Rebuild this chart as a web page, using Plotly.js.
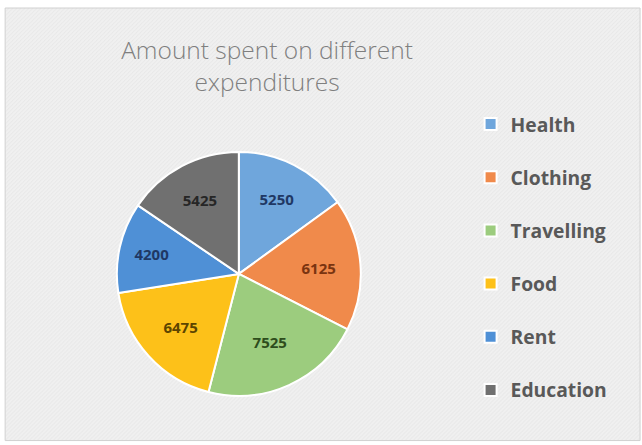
<!DOCTYPE html>
<html><head><meta charset="utf-8">
<script src="https://cdn.plot.ly/plotly-3.0.1.min.js"></script>
<style>body{margin:0;background:#fff}#c{width:642px;height:445px}</style>
</head><body><div id="c"></div>
<script>
const categories = ["Health", "Clothing", "Travelling", "Food", "Rent", "Education"];
const amounts = [5250, 6125, 7525, 6475, 4200, 5425];
const sliceColors = ["#6fa6dc", "#f08a4b", "#9ccc7e", "#fdc119", "#4f90d6", "#707070"];
const labelColors = ["#1f3864", "#7a3410", "#2e4d1c", "#5c4500", "#1f3864", "#262626"];

const svg = "<svg xmlns='http://www.w3.org/2000/svg' width='635' height='432' viewBox='0 0 635 432'>" +
  "<defs><pattern id='p' width='4' height='4' patternUnits='userSpaceOnUse'>" +
  "<rect width='4' height='4' fill='#f0f0f0'/><path d='M-1,1 l2,-2 M0,4 l4,-4 M3,5 l2,-2' stroke='#e4e4e4' stroke-width='0.8'/></pattern></defs>" +
  "<rect width='635' height='432' fill='url(#p)'/></svg>";
const pattern = "data:image/svg+xml;base64," + btoa(svg);

const trace = {
  type: "pie",
  labels: categories.map(c => c + "<br> "),
  values: amounts,
  sort: false,
  direction: "clockwise",
  rotation: 0,
  textinfo: "value",
  textposition: "inside",
  insidetextorientation: "horizontal",
  textfont: {family: "Open Sans, sans-serif", size: 15, color: labelColors, weight: "bold"},
  marker: {colors: sliceColors, line: {color: "#ffffff", width: 2}},
  domain: {x: [0.182, 0.562], y: [0.108, 0.661]},
  hoverinfo: "label+value"
};

const layout = {
  width: 642, height: 445,
  margin: {l: 0, r: 0, t: 0, b: 0},
  paper_bgcolor: "#ffffff",
  showlegend: true,
  title: {
    text: "Amount spent on different<br>expenditures",
    font: {family: "Open Sans, sans-serif", size: 24.5, color: "#7f7f7f", weight: 300},
    x: 0.416, xanchor: "center", xref: "paper",
    y: 0.868, yanchor: "top", yref: "paper"
  },
  legend: {
    x: 0.733, xanchor: "left", y: 0.764, yanchor: "top",
    valign: "top",
    bgcolor: "rgba(0,0,0,0)",
    font: {family: "Open Sans, sans-serif", size: 19.3, color: "#595959", weight: "bold"},
    itemwidth: 30
  },
  shapes: [{
    type: "rect", xref: "paper", yref: "paper", x0: 0.008, x1: 0.997, y0: 0.01, y1: 0.982,
    line: {color: "#d0d0d0", width: 1}, fillcolor: "rgba(0,0,0,0)", layer: "above"
  }],
  images: [{
    source: pattern, xref: "paper", yref: "paper", x: 0.008, y: 0.982,
    sizex: 0.989, sizey: 0.972, sizing: "stretch", xanchor: "left", yanchor: "top", layer: "below"
  }]
};

Plotly.newPlot("c", [trace], layout, {displayModeBar: false, staticPlot: true});
</script></body></html>
